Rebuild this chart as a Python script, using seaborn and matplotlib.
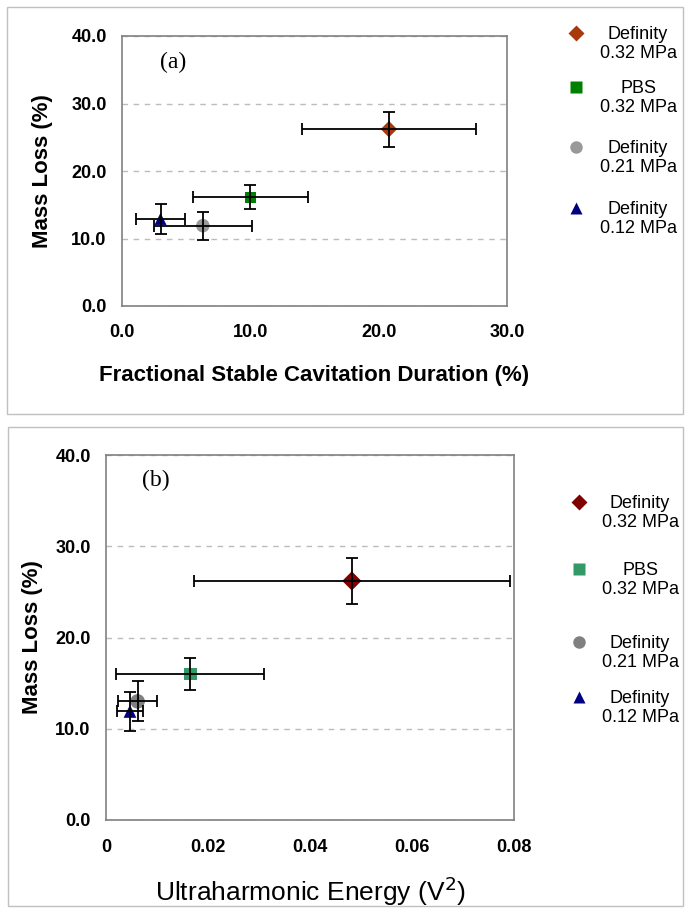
import pandas as pd
import numpy as np
import matplotlib
matplotlib.use('Agg')
import matplotlib.pyplot as plt
from matplotlib.patches import Rectangle
import seaborn as sns

# 데이터
groups = ['Definity\n0.32 MPa', 'PBS\n0.32 MPa', 'Definity\n0.21 MPa', 'Definity\n0.12 MPa']
mass_loss_a = [26.2, 16.1, 11.9, 12.9]
mass_err_a = [2.6, 1.8, 2.1, 2.2]
stable_dur = [20.8, 10.0, 6.3, 3.0]
stable_err = [6.8, 4.5, 3.8, 1.9]

mass_loss_b = [26.2, 16.0, 13.0, 11.9]
mass_err_b = [2.55, 1.8, 2.2, 2.1]
uh_energy = [0.0482, 0.0165, 0.0062, 0.0047]
uh_err = [0.031, 0.0145, 0.0038, 0.0025]

markers = ['D', 's', 'o', '^']
colors_a = ['#A63A0C', '#008000', '#999999', '#000080']
colors_b = ['#800000', '#339966', '#808080', '#000080']
sizes_a = [70, 60, 95, 75]
sizes_b = [95, 85, 110, 85]

df_a = pd.DataFrame({'x': stable_dur, 'y': mass_loss_a, 'xe': stable_err, 'ye': mass_err_a, 'group': groups})
df_b = pd.DataFrame({'x': uh_energy, 'y': mass_loss_b, 'xe': uh_err, 'ye': mass_err_b, 'group': groups})

sns.set_style('white')
plt.rcParams['font.family'] = ['Liberation Sans', 'DejaVu Sans']
plt.rcParams['text.color'] = 'black'
plt.rcParams['axes.labelcolor'] = 'black'
plt.rcParams['xtick.labelcolor'] = 'black'
plt.rcParams['ytick.labelcolor'] = 'black'

fig = plt.figure(figsize=(6.9, 9.14), dpi=100)
W, H = 690, 914


def fx(px):
    return px / W


def fy(py):
    return 1 - py / H


# 바깥 박스
for x0, y0, x1, y1 in [(7, 7, 683, 414), (8, 427, 683, 906)]:
    fig.add_artist(Rectangle((fx(x0), fy(y1)), fx(x1) - fx(x0), fy(y0) - fy(y1),
                             transform=fig.transFigure, fill=False, ec='#c0c0c0', lw=1))

ax_a = fig.add_axes([fx(122), fy(306), fx(507) - fx(122), fy(36) - fy(306)])
ax_b = fig.add_axes([fx(106), fy(820), fx(514) - fx(106), fy(455) - fy(820)])


def draw_panel(ax, df, colors, sizes, tick_fs, xlabel, label_fs, label_weight):
    for i, g in enumerate(groups):
        sub = df[df['group'] == g]
        sns.scatterplot(data=sub, x='x', y='y', marker=markers[i], color=colors[i],
                        s=sizes[i], edgecolor='none', ax=ax, zorder=3, legend=False)
    ax.errorbar(df['x'], df['y'], xerr=df['xe'], yerr=df['ye'], fmt='none',
                ecolor='black', elinewidth=1.3, capsize=4, capthick=1.3, zorder=4)
    ax.set_ylim(0, 40)
    ax.set_yticks([0, 10, 20, 30, 40])
    ax.set_yticklabels(['%.1f' % v for v in [0, 10, 20, 30, 40]])
    ax.yaxis.grid(True, linestyle=(0, (4, 4)), color='#bcbcbc', lw=1)
    ax.xaxis.grid(False)
    for s in ax.spines.values():
        s.set_color('#808080')
        s.set_linewidth(1.2)
    ax.tick_params(axis='both', direction='out', length=5, width=1, color='#808080',
                   labelsize=tick_fs, pad=6)
    for t in ax.get_yticklabels():
        t.set_fontweight('bold')
    ax.set_ylabel('Mass Loss (%)', fontsize=16, fontweight='bold')
    ax.set_xlabel(xlabel, fontsize=label_fs, fontweight=label_weight)


draw_panel(ax_a, df_a, colors_a, sizes_a, 13,
           'Fractional Stable Cavitation Duration (%)', 16, 'bold')
ax_a.set_xlim(0, 30)
ax_a.set_xticks([0, 10, 20, 30])
ax_a.set_xticklabels(['%.1f' % v for v in [0, 10, 20, 30]], fontweight='bold')
ax_a.tick_params(axis='x', pad=8)
ax_a.yaxis.set_label_coords(-0.179, 0.5)
ax_a.xaxis.set_label_coords(0.5, -0.22)
ax_a.text(4.0, 36.1, '(a)', family=['Liberation Serif', 'DejaVu Serif'], fontsize=17,
          ha='center', va='center')

draw_panel(ax_b, df_b, colors_b, sizes_b, 13,
           'Ultraharmonic Energy (V$^2$)', 19, 'normal')
ax_b.set_xlim(0, 0.08)
ax_b.set_xticks([0, 0.02, 0.04, 0.06, 0.08])
ax_b.set_xticklabels(['0', '0.02', '0.04', '0.06', '0.08'], fontweight='bold')
ax_b.tick_params(axis='x', pad=9)
ax_b.yaxis.set_label_coords(-0.154, 0.5)
ax_b.xaxis.set_label_coords(0.5, -0.15)
ax_b.text(0.0098, 37.2, '(b)', family=['Liberation Serif', 'DejaVu Serif'], fontsize=17,
          ha='center', va='center')

# 범례 (수동 배치)
leg_y_a = [33, 87, 147, 208]
leg_y_b = [502, 569, 642, 697]
for leg_y, cols, mx, tx in [(leg_y_a, colors_a, 576, 638), (leg_y_b, colors_b, 579, 640)]:
    for i, g in enumerate(groups):
        fig.lines.append(plt.Line2D([fx(mx)], [fy(leg_y[i])], transform=fig.transFigure,
                                    marker=markers[i], color=cols[i], ms=8 if markers[i] != 'o' else 9,
                                    mec='none', ls='none'))
        fig.text(fx(tx), fy(leg_y[i] + 11), g, ha='center', va='center', fontsize=13,
                 multialignment='center', linespacing=1.2)

fig.savefig('out.png', dpi=100)
